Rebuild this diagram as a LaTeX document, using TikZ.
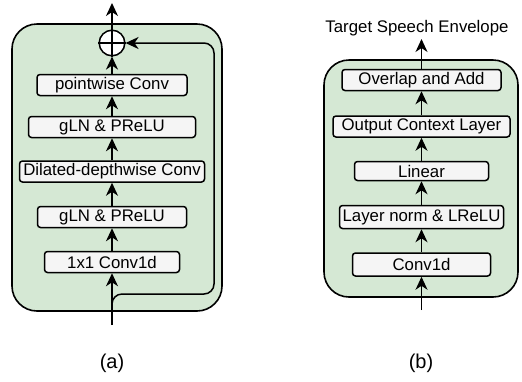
\documentclass[tikz,border=0pt]{standalone}
\usepackage{fontspec}
\setmainfont{Liberation Sans}
\usetikzlibrary{arrows.meta}
\definecolor{gfill}{HTML}{D5E8D4}
\definecolor{bfill}{HTML}{F5F5F5}
\tikzset{
  panel/.style={draw=black, line width=0.8pt, fill=gfill, rounded corners=12.5pt},
  blk/.style={draw=black, line width=0.75pt, fill=bfill, rounded corners=1.5pt, inner sep=0pt,
    minimum height=10.5pt, font=\fontsize{8.4}{10}\selectfont},
  arr/.style={line width=0.75pt, -{Stealth[length=6.5pt,width=6pt,inset=2pt]}},
  ln/.style={line width=0.75pt},
  lbl/.style={font=\fontsize{8.4}{10}\selectfont, inner sep=0pt},
  sublabel/.style={font=\fontsize{10}{12}\selectfont, inner sep=0pt},
}
\begin{document}
\begin{tikzpicture}[x=0.5pt,y=-0.5pt]
\useasboundingbox (0,0) rectangle (522,381);
% panel (a)
\draw[panel] (12,24) rectangle (222,311);
\node[blk, minimum width=75pt] (pw) at (112,85) {pointwise Conv};
\node[blk, minimum width=83.5pt] (g1) at (112,127) {gLN \& PReLU};
\node[blk, minimum width=92.5pt] (dd) at (112,171.5) {Dilated-depthwise Conv};
\node[blk, minimum width=74.5pt] (g2) at (112,217) {gLN \& PReLU};
\node[blk, minimum width=67.5pt] (c1) at (112,262) {1x1 Conv1d};
\node[draw, circle, fill=white, line width=0.75pt, minimum size=12.8pt, inner sep=0pt] (sum) at (112,43) {};
\draw[ln] (sum.north) -- (sum.south) (sum.west) -- (sum.east);
\coordinate (inA) at (112,325);
\coordinate (outA) at (112,3);
\draw[arr] (inA) -- (c1);
\draw[arr] (c1) -- (g2);
\draw[arr] (g2) -- (dd);
\draw[arr] (dd) -- (g1);
\draw[arr] (g1) -- (pw);
\draw[arr] (pw) -- (sum);
\draw[arr] (sum.north) -- (outA);
\draw[arr, rounded corners=5pt] (112,312) -- (112,294) -- (214,294) -- (214,43) -- (sum.east);
\node[sublabel] (la) at (112,363) {(a)};
% panel (b)
\draw[panel] (324,60) rectangle (518,297);
\node[blk, minimum width=79.5pt] (ov) at (421.5,80) {Overlap and Add};
\node[blk, minimum width=88.5pt] (oc) at (421.5,126.5) {Output Context Layer};
\node[blk, minimum width=67pt, minimum height=9.5pt] (li) at (421.5,171) {Linear};
\node[blk, minimum width=82pt, minimum height=11.5pt] (ln) at (421.5,217) {Layer norm \& LReLU};
\node[blk, minimum width=69pt, minimum height=11.5pt] (cv) at (421.5,264.5) {Conv1d};
\coordinate (inB) at (421.5,310);
\coordinate (outB) at (421.5,39);
\draw[arr] (inB) -- (cv);
\draw[arr] (cv) -- (ln);
\draw[arr] (ln) -- (li);
\draw[arr] (li) -- (oc);
\draw[arr] (oc) -- (ov);
\draw[arr] (ov) -- (outB);
\node[lbl] (tse) at (417,28) {Target Speech Envelope};
\node[sublabel] (lb) at (421,363) {(b)};
\end{tikzpicture}
\end{document}
